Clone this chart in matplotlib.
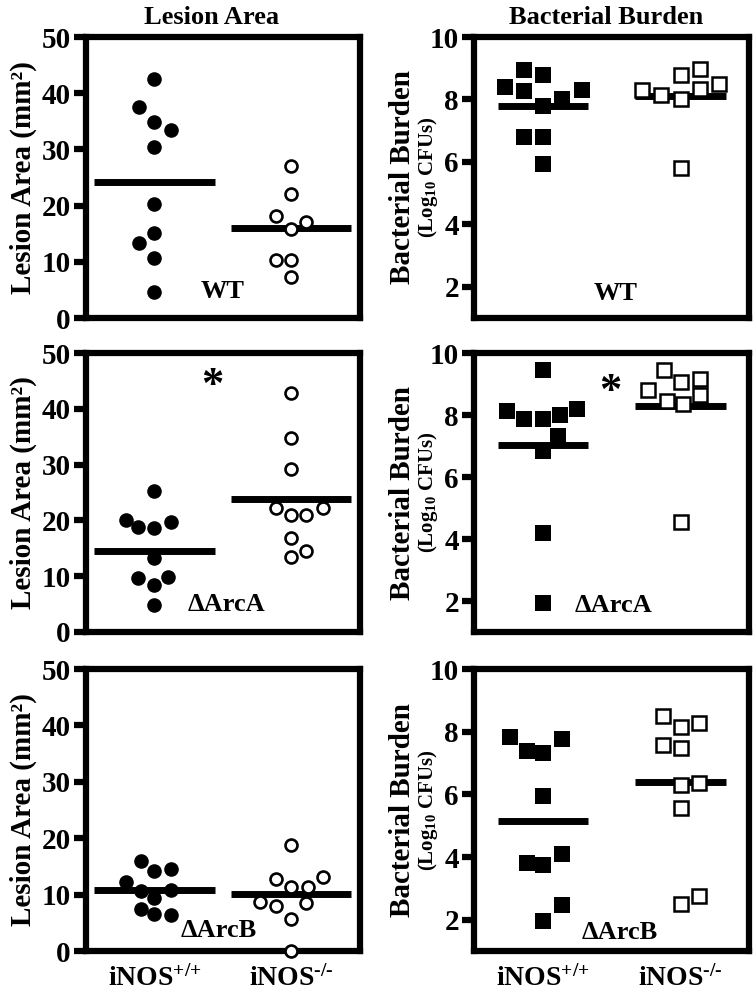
import matplotlib
matplotlib.use('Agg')
import matplotlib.pyplot as plt

plt.rcParams['font.family'] = ['Liberation Serif', 'DejaVu Serif']
plt.rcParams['font.weight'] = 'bold'
plt.rcParams['axes.titleweight'] = 'bold'
plt.rcParams['axes.labelweight'] = 'bold'
plt.rcParams['mathtext.fontset'] = 'custom'
plt.rcParams['mathtext.rm'] = 'Liberation Serif:bold'
plt.rcParams['mathtext.bf'] = 'Liberation Serif:bold'
plt.rcParams['mathtext.default'] = 'rm'

# ---- data ----
groups = ['iNOS$^{{+}/{+}}$', 'iNOS$^{\u2010/\u2010}$']
strains = ['WT', '\u0394ArcA', '\u0394ArcB']

# lesion area (mm^2), iNOS+/+ and iNOS-/-
lesion_wt_pos = [42.6, 37.5, 34.9, 33.5, 30.5, 20.3, 15.1, 13.4, 10.7, 4.6]
lesion_wt_neg = [27.1, 22.1, 18.2, 17.0, 15.8, 10.3, 10.3, 7.3]
lesion_arca_pos = [25.2, 20.0, 18.8, 18.7, 19.7, 13.3, 9.6, 9.8, 8.4, 4.9]
lesion_arca_neg = [42.9, 34.7, 29.2, 22.2, 20.9, 20.9, 22.3, 16.9, 14.5, 13.5]
lesion_arcb_pos = [16.0, 14.2, 14.5, 12.2, 10.6, 9.4, 10.8, 7.4, 6.6, 6.4]
lesion_arcb_neg = [18.8, 12.8, 11.3, 11.3, 13.1, 8.7, 8.0, 8.5, 5.7, 0.0]
lesion_means = [[24.2, 16.1], [14.5, 23.9], [10.8, 10.1]]

# bacterial burden (log10 CFUs)
cfu_wt_pos = [8.40, 8.93, 8.79, 8.26, 7.78, 8.03, 8.29, 6.80, 6.80, 5.93]
cfu_wt_neg = [8.31, 8.15, 8.79, 8.00, 8.99, 8.33, 8.51, 5.79]
cfu_arca_pos = [9.44, 8.14, 7.87, 7.87, 8.01, 8.20, 7.33, 6.83, 4.19, 1.94]
cfu_arca_neg = [8.80, 9.44, 9.05, 9.16, 8.66, 8.46, 8.37, 4.54]
cfu_arcb_pos = [7.82, 7.38, 7.32, 7.78, 5.95, 3.81, 3.76, 4.09, 1.97, 2.46]
cfu_arcb_neg = [8.49, 8.14, 8.29, 7.57, 7.49, 6.30, 6.35, 5.57, 2.49, 2.76]
cfu_means = [[7.78, 8.10], [7.04, 8.28], [5.16, 6.40]]

# horizontal scatter offsets of the points (jitter used in the original)
dx_lesion_wt_pos = [0, -0.11, 0, 0.12, 0, 0, 0, -0.11, 0, 0]
dx_lesion_wt_neg = [0, 0, -0.11, 0.11, 0, -0.11, 0, 0]
dx_lesion_arca_pos = [0, -0.21, -0.12, 0, 0.12, 0, -0.12, 0.10, 0, 0]
dx_lesion_arca_neg = [0, 0, 0, -0.11, 0, 0.11, 0.23, 0, 0.11, 0]
dx_lesion_arcb_pos = [-0.10, 0, 0.12, -0.21, -0.10, 0, 0.12, -0.10, 0, 0.12]
dx_lesion_arcb_neg = [0, -0.11, 0, 0.12, 0.23, -0.23, -0.11, 0.11, 0, 0]
dx_cfu_wt_pos = [-0.28, -0.14, 0, -0.14, 0, 0.14, 0.28, -0.14, 0, 0]
dx_cfu_wt_neg = [-0.28, -0.14, 0, 0, 0.14, 0.14, 0.28, 0]
dx_cfu_arca_pos = [0, -0.26, -0.14, 0, 0.12, 0.25, 0.11, 0, 0, 0]
dx_cfu_arca_neg = [-0.24, -0.12, 0, 0.14, 0.14, -0.10, 0.02, 0]
dx_cfu_arcb_pos = [-0.24, -0.12, 0, 0.14, 0, -0.12, 0, 0.14, 0, 0.14]
dx_cfu_arcb_neg = [-0.13, 0, 0.13, -0.13, 0, 0, 0.13, 0, 0, 0.13]

lesion = [(lesion_wt_pos, lesion_wt_neg, dx_lesion_wt_pos, dx_lesion_wt_neg),
          (lesion_arca_pos, lesion_arca_neg, dx_lesion_arca_pos, dx_lesion_arca_neg),
          (lesion_arcb_pos, lesion_arcb_neg, dx_lesion_arcb_pos, dx_lesion_arcb_neg)]
cfu = [(cfu_wt_pos, cfu_wt_neg, dx_cfu_wt_pos, dx_cfu_wt_neg),
       (cfu_arca_pos, cfu_arca_neg, dx_cfu_arca_pos, dx_cfu_arca_neg),
       (cfu_arcb_pos, cfu_arcb_neg, dx_cfu_arcb_pos, dx_cfu_arcb_neg)]

fig = plt.figure(figsize=(7.54, 10), dpi=100)

rows_px = [(37, 318), (353, 632), (669, 951)]
lw = 4.5


def style_ax(ax, bottom_row):
    for s in ax.spines.values():
        s.set_linewidth(lw)
    ax.tick_params(axis='y', direction='out', length=9, width=lw,
                   labelsize=21, pad=2)
    ax.tick_params(axis='x', length=0, labelsize=20, pad=10)
    ax.set_xlim(-0.5, 1.5)
    ax.set_xticks([0, 1])
    if bottom_row:
        ax.set_xticklabels(groups)
    else:
        ax.set_xticklabels([])


for r, (top, bot) in enumerate(rows_px):
    b = 1 - bot / 1000.0
    h = (bot - top) / 1000.0
    bottom_row = (r == 2)

    # lesion area
    ax = fig.add_axes([0.114, b, 0.363, h])
    style_ax(ax, bottom_row)
    pos, neg, dpos, dneg = lesion[r]
    for g, m in enumerate(lesion_means[r]):
        ax.plot([g - 0.44, g + 0.44], [m, m], color='black', lw=5,
                solid_capstyle='butt', zorder=2)
    ax.plot([0 + d for d in dpos], pos, 'o', ms=10.5, color='black',
            mew=0, zorder=3, clip_on=False)
    ax.plot([1 + d for d in dneg], neg, 'o', ms=8.6, mfc='white',
            mec='black', mew=1.9, zorder=3, clip_on=False)
    ax.set_ylim(0, 50)
    ax.set_yticks([0, 10, 20, 30, 40, 50])
    ax.set_ylabel('Lesion Area (mm\u00b2)', fontsize=21, labelpad=3)
    txt_xy = [(0.5, 4.8), (0.53, 4.9), (0.47, 3.7)][r]
    ax.text(txt_xy[0], txt_xy[1], strains[r], fontsize=19, ha='center',
            va='center')
    if r == 1:
        ax.text(0.42, 44.0, '*', fontsize=32, ha='center', va='center')
    if r == 0:
        ax.set_title('Lesion Area', fontsize=19, pad=9, x=0.46)

    # bacterial burden
    ax = fig.add_axes([0.629, b, 0.365, h])
    style_ax(ax, bottom_row)
    pos, neg, dpos, dneg = cfu[r]
    for g, m in enumerate(cfu_means[r]):
        ax.plot([g - 0.33, g + 0.33], [m, m], color='black', lw=5,
                solid_capstyle='butt', zorder=2)
    ax.plot([0 + d for d in dpos], pos, 's', ms=11, color='black',
            mew=0, zorder=3, clip_on=False)
    ax.plot([1 + d for d in dneg], neg, 's', ms=9.8, mfc='white',
            mec='black', mew=1.8, zorder=3, clip_on=False)
    ax.set_ylim(1, 10)
    ax.set_yticks([2, 4, 6, 8, 10])
    ax.text(-0.262, 0.5, 'Bacterial Burden', transform=ax.transAxes,
            rotation=90, fontsize=21, ha='center', va='center')
    ax.text(-0.168, 0.5, '(Log$_{10}$ CFUs)', transform=ax.transAxes,
            rotation=90, fontsize=15, ha='center', va='center')
    txt_xy = [(0.53, 1.8), (0.51, 1.85), (0.56, 1.6)][r]
    ax.text(txt_xy[0], txt_xy[1], strains[r], fontsize=19, ha='center',
            va='center')
    if r == 1:
        ax.text(0.49, 8.75, '*', fontsize=32, ha='center', va='center')
    if r == 0:
        ax.set_title('Bacterial Burden', fontsize=19, pad=9, x=0.48)

fig.savefig('out.png', dpi=100)
